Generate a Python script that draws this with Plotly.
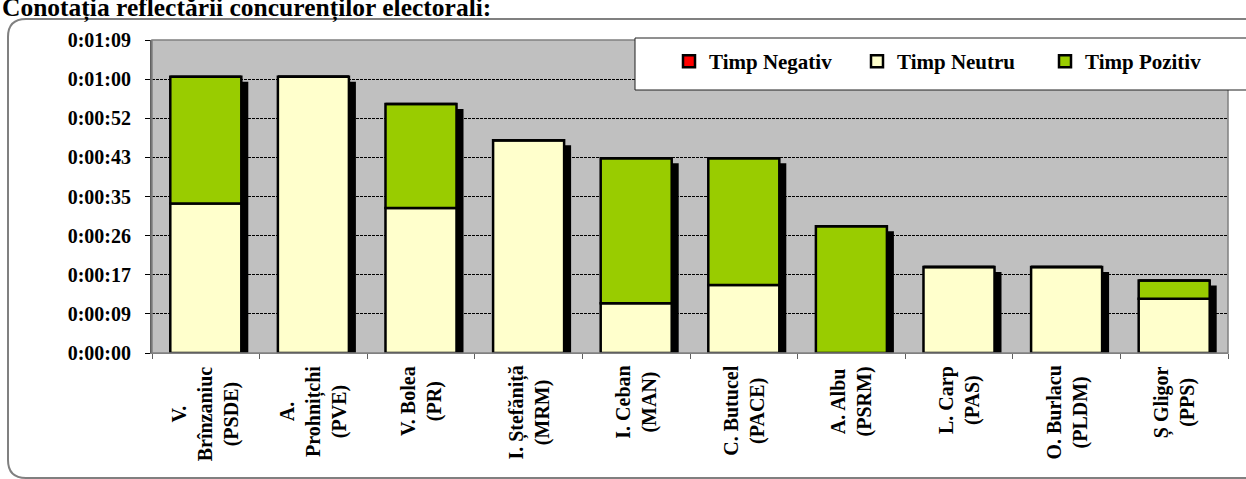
import plotly.graph_objects as go

# ---------------- data ----------------
categories = [
    "V.<br>Brînzaniuc<br>(PSDE)",
    "A.<br>Prohnițchi<br>(PVE)",
    "V. Bolea<br>(PR)",
    "I. Ștefăniță<br>(MRM)",
    "I. Ceban<br>(MAN)",
    "C. Butucel<br>(PACE)",
    "A. Albu<br>(PSRM)",
    "L. Carp<br>(PAS)",
    "O. Burlacu<br>(PLDM)",
    "Ș Gligor<br>(PPS)",
]
series_names = ["Timp Negativ", "Timp Neutru", "Timp Pozitiv"]
# durations in seconds
timp_negativ = [0, 0, 0, 0, 0, 0, 0, 0, 0, 0]
timp_neutru = [33, 61, 32, 47, 11, 15, 0, 19, 19, 12]
timp_pozitiv = [28, 0, 23, 0, 32, 28, 28, 0, 0, 4]
tick_seconds = [0, 8.64, 17.28, 25.92, 34.56, 43.2, 51.84, 60.48, 69.12]
tick_labels = ["0:00:00", "0:00:09", "0:00:17", "0:00:26", "0:00:35",
               "0:00:43", "0:00:52", "0:01:00", "0:01:09"]
title_text = "Conotația reflectării concurenților electorali:"

# ---------------- layout geometry ----------------
W, H = 1246, 479
ML, MR, MT, MB = 152, 18, 40, 126
PW, PH = W - ML - MR, H - MT - MB
FONT = "Liberation Serif"
COL_NEG, COL_NEU, COL_POZ = "#FF0000", "#FFFFCC", "#99CC00"
BAR_W = 0.66
SHADOW_DX = 0.065      # category units
SHADOW_DY = 1.1        # seconds


def pxx(x):
    return (x - ML) / PW


def pxy(y):
    return (H - MB - y) / PH


totals = [a + b + c for a, b, c in zip(timp_negativ, timp_neutru, timp_pozitiv)]
base_poz = timp_neutru
base_neg = [a + b for a, b in zip(timp_neutru, timp_pozitiv)]

fig = go.Figure()

# shadow
fig.add_trace(go.Bar(
    x=categories, y=[t - SHADOW_DY for t in totals], width=BAR_W,
    offset=-BAR_W / 2 + SHADOW_DX, marker=dict(color="black", line=dict(width=0)),
    showlegend=False, hoverinfo="skip",
))

line = dict(color="black", width=2.5)
fig.add_trace(go.Bar(name=series_names[1], x=categories, y=timp_neutru, width=BAR_W,
                     marker=dict(color=COL_NEU, line=line), legendrank=2))
fig.add_trace(go.Bar(name=series_names[2], x=categories, y=timp_pozitiv, base=base_poz,
                     width=BAR_W, marker=dict(color=COL_POZ, line=line), legendrank=3))
fig.add_trace(go.Bar(name=series_names[0], x=categories, y=timp_negativ, base=base_neg,
                     width=BAR_W, marker=dict(color=COL_NEG, line=line), legendrank=1))

# category labels as centred, rotated annotations
annotations = []
for c in categories:
    annotations.append(dict(
        x=c, xref="x", y=0, yref="paper", yanchor="top", xanchor="center",
        yshift=-11, text=c, textangle=-90, align="center", showarrow=False,
        font=dict(family=FONT, size=20, color="black", weight="bold"),
    ))
annotations.append(dict(
    x=pxx(0), xref="paper", y=pxy(25), yref="paper", xanchor="left", yanchor="bottom",
    text=title_text, showarrow=False, align="left",
    font=dict(family=FONT, size=25.5, color="black", weight="bold"),
))

# rounded outer frame
L, T, R, B, r = 8, 19, 1280, 478, 18
path = (f"M {pxx(L + r)},{pxy(T)} L {pxx(R - r)},{pxy(T)} "
        f"Q {pxx(R)},{pxy(T)} {pxx(R)},{pxy(T + r)} L {pxx(R)},{pxy(B - r)} "
        f"Q {pxx(R)},{pxy(B)} {pxx(R - r)},{pxy(B)} L {pxx(L + r)},{pxy(B)} "
        f"Q {pxx(L)},{pxy(B)} {pxx(L)},{pxy(B - r)} L {pxx(L)},{pxy(T + r)} "
        f"Q {pxx(L)},{pxy(T)} {pxx(L + r)},{pxy(T)} Z")
shapes = [
    dict(type="path", xref="paper", yref="paper", path=path,
         line=dict(color="#808080", width=2), layer="below"),
    dict(type="rect", xref="paper", yref="paper", x0=0, x1=1, y0=0, y1=1,
         line=dict(color="#808080", width=1.5), layer="above"),
    dict(type="rect", xref="paper", yref="paper", x0=pxx(635), x1=pxx(1265),
         y0=pxy(90), y1=pxy(38), fillcolor="white",
         line=dict(color="#202020", width=1), layer="above"),
]

fig.update_layout(
    width=W, height=H,
    margin=dict(l=ML, r=MR, t=MT, b=MB, autoexpand=False),
    paper_bgcolor="white", plot_bgcolor="#C0C0C0",
    barmode="overlay",
    font=dict(family=FONT, size=20, color="black", weight="bold"),
    showlegend=True,
    legend=dict(orientation="h", x=pxx(669), y=pxy(41), xanchor="left", yanchor="top",
                bgcolor="rgba(0,0,0,0)", borderwidth=0, traceorder="normal",
                entrywidth=143, entrywidthmode="pixels", itemwidth=30,
                font=dict(family=FONT, size=21, color="black", weight="bold")),
    annotations=annotations,
    shapes=shapes,
    xaxis=dict(type="category", categoryorder="array", categoryarray=categories,
               range=[-0.5, len(categories) - 0.5], showticklabels=False,
               tickson="boundaries", ticks="outside", ticklen=5, tickcolor="#606060",
               showgrid=False, showline=True, linecolor="#808080", linewidth=1,
               automargin=False),
    yaxis=dict(range=[0, tick_seconds[-1]], tickmode="array", tickvals=tick_seconds,
               ticktext=tick_labels, ticks="outside", ticklen=5, tickcolor="black",
               showgrid=True, gridcolor="black", gridwidth=1, griddash="3px,1px",
               zeroline=False, showline=True, linecolor="#606060", linewidth=2,
               ticklabelstandoff=10, automargin=False,
               tickfont=dict(family=FONT, size=20, color="black", weight="bold")),
)

fig.write_html(
    "out.html",
    config={"displayModeBar": False},
    post_script="document.body.style.margin='0';document.body.style.overflow='hidden';"
                "document.documentElement.style.overflow='hidden';",
)
